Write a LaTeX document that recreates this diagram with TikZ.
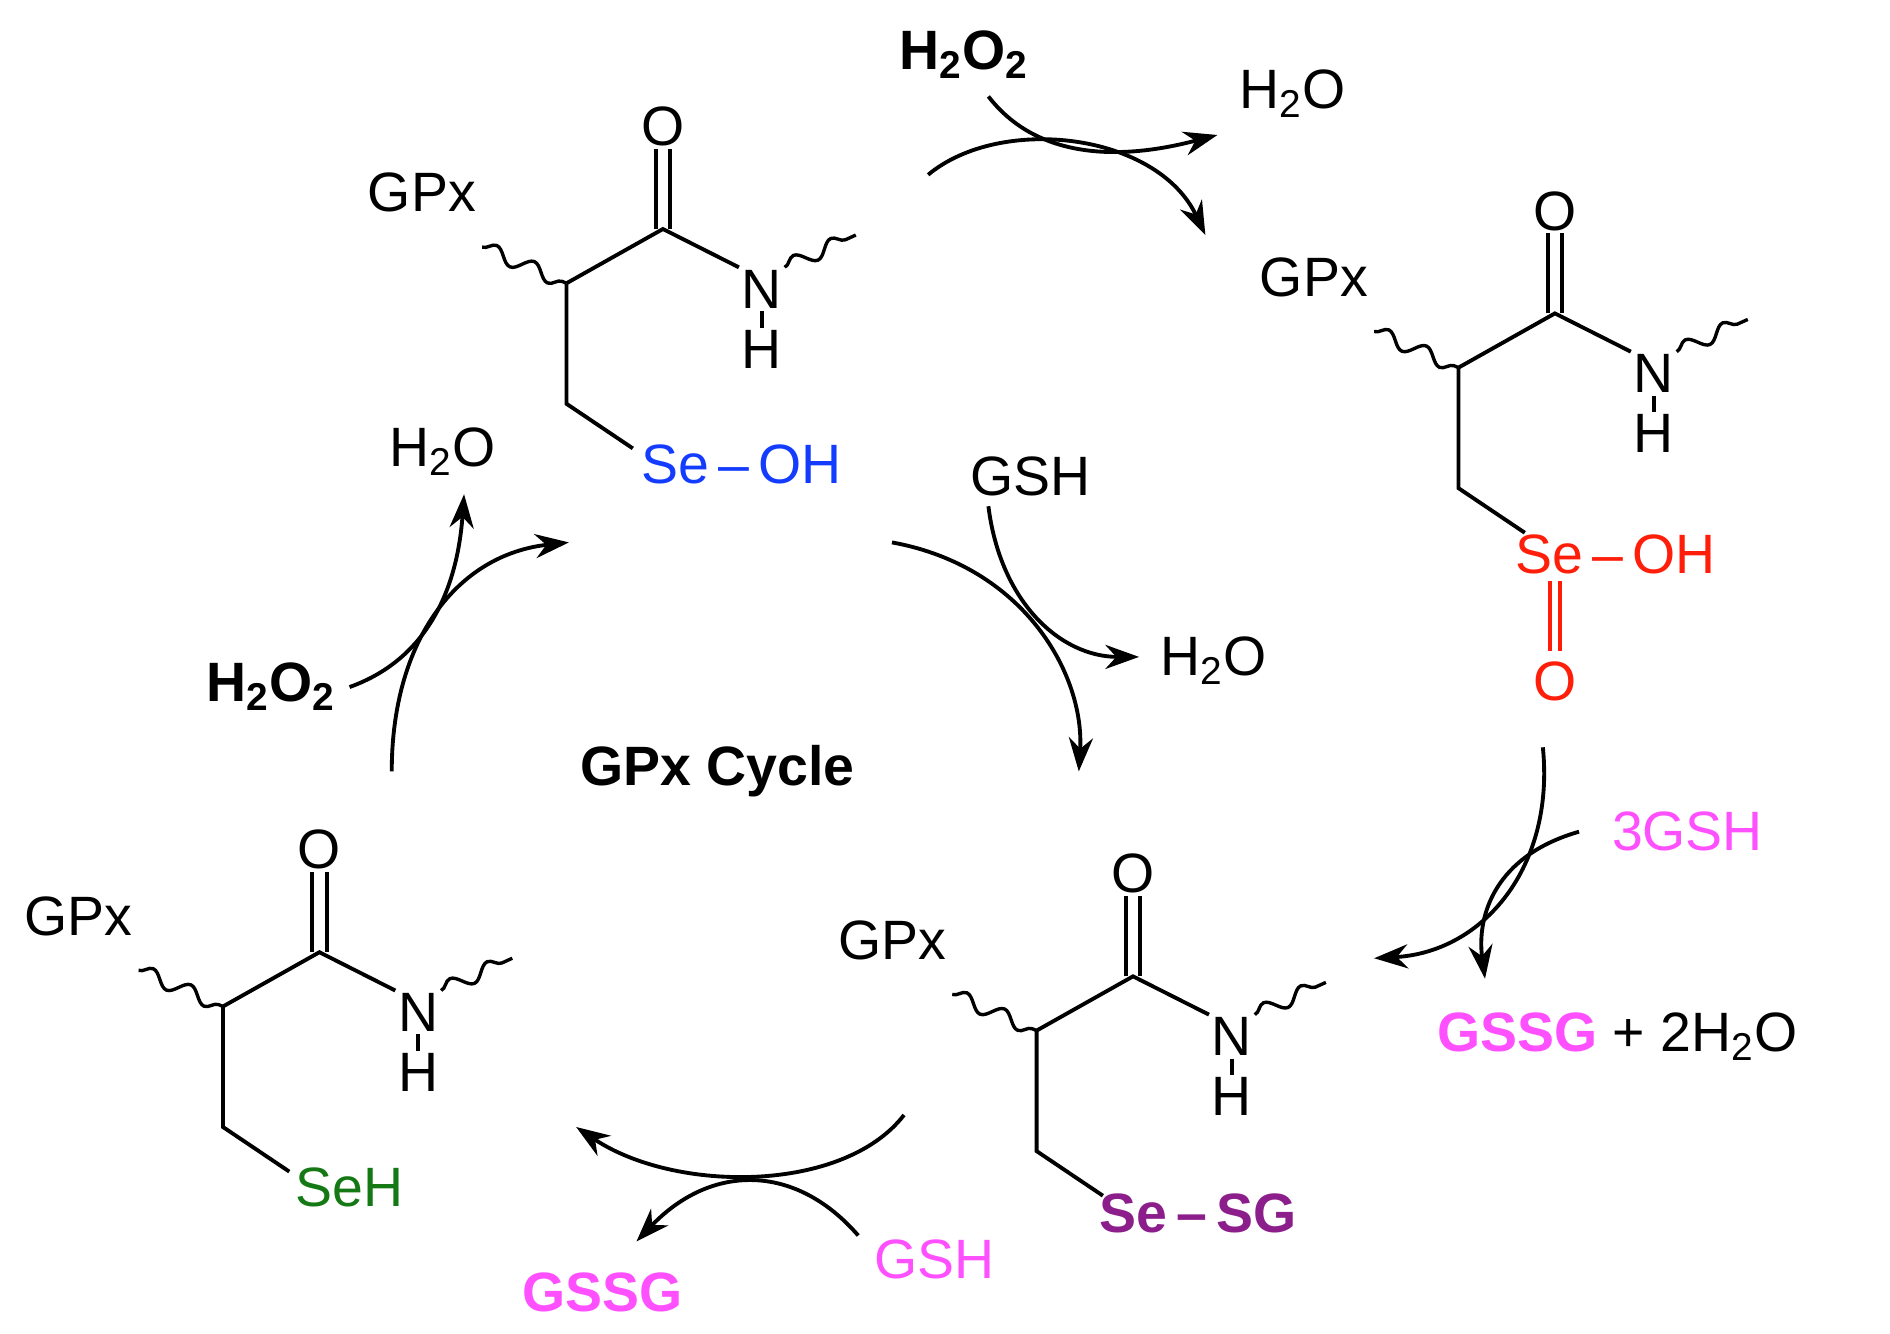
\documentclass[tikz,border=0pt]{standalone}
\usepackage{fontspec}
\setmainfont{Liberation Sans}
\usetikzlibrary{decorations.pathmorphing,arrows.meta}
\definecolor{mag}{RGB}{255,80,255}
\definecolor{seblue}{RGB}{20,60,255}
\definecolor{sered}{RGB}{255,30,10}
\definecolor{sepur}{RGB}{140,30,140}
\definecolor{segreen}{RGB}{20,120,20}
\tikzset{bond/.style={line width=1.6pt},
 wav/.style={line width=1.4pt,decorate,decoration={snake,segment length=17pt,amplitude=3pt}},
 rx/.style={line width=1.6pt,-{Stealth[length=14pt,width=10pt]}},
 lbl/.style={font=\fontsize{23}{27}\selectfont,inner sep=1pt}}
\newcommand{\mymol}[3]{%
\begin{scope}[shift={(#1,#2)}]
 \node[lbl] (g#3) at (350,160) {GPx};
 \coordinate (w#3) at (400,205); \coordinate (a#3) at (470,235);
 \coordinate (c#3) at (550,190); \coordinate (ch#3) at (470,335);
 \node[lbl] (o#3) at (550,105) {O};
 \node[lbl] (n#3) at (632,240) {N};
 \node[lbl] (h#3) at (632,290) {H};
 \coordinate (wn#3) at (710,195);
 \draw[wav] (w#3) -- (a#3);
 \draw[bond] (a#3) -- (c#3) -- (n#3.north west);
 \draw[bond] ([xshift=-3pt]c#3) -- ([xshift=-3pt]o#3.south);
 \draw[bond] ([xshift=3pt]c#3) -- ([xshift=3pt]o#3.south);
 \draw[bond] (n#3) -- (h#3);
 \draw[wav] (n#3.north east) -- (wn#3);
 \draw[bond] (a#3) -- (ch#3) -- (525,372);
\end{scope}}
\begin{document}
\begin{tikzpicture}[x=0.5pt,y=-0.5pt]
\useasboundingbox (0,0) rectangle (1568,1106);
\mymol{0}{0}{1}
\mymol{740}{70}{2}
\mymol{390}{620}{3}
\mymol{-285}{600}{4}
\node[lbl,anchor=west,text=seblue] (se1) at (530,385) {Se\,–\,OH};
\node[lbl,anchor=west,text=sered] (se2) at (1255,460) {Se\,–\,OH};
\node[lbl,text=sered] (o2) at (1290,565) {O};
\draw[bond,sered] (1286,482) -- (1286,540);
\draw[bond,sered] (1294,482) -- (1294,540);
\node[lbl,anchor=west,text=sepur,font=\fontsize{23}{27}\selectfont\bfseries] (se3) at (910,1007) {Se\,–\,SG};
\node[lbl,anchor=west,text=segreen] (se4) at (243,985) {SeH};
% texts
\node[lbl,font=\fontsize{23}{27}\selectfont\bfseries] (t1) at (800,45) {H\textsubscript{2}O\textsubscript{2}};
\node[lbl] (t2) at (1072,78) {H\textsubscript{2}O};
\node[lbl] (t3) at (855,395) {GSH};
\node[lbl] (t4) at (1007,548) {H\textsubscript{2}O};
\node[lbl,text=mag] (t5) at (1400,690) {3GSH};
\node[lbl,anchor=west] (t6) at (1190,860) {\textcolor{mag}{\bfseries GSSG} + 2H\textsubscript{2}O};
\node[lbl,text=mag] (t7) at (775,1045) {GSH};
\node[lbl,text=mag,font=\fontsize{23}{27}\selectfont\bfseries] (t8) at (500,1072) {GSSG};
\node[lbl] (t9) at (367,375) {H\textsubscript{2}O};
\node[lbl,font=\fontsize{23}{27}\selectfont\bfseries] (t10) at (225,570) {H\textsubscript{2}O\textsubscript{2}};
\node[lbl,font=\fontsize{23}{27}\selectfont\bfseries] (t11) at (595,640) {GPx Cycle};
% arrows
\draw[rx] (770,145) .. controls (830,95) and (960,110) .. (1000,195);
\draw[rx] (820,80) .. controls (870,145) and (960,125) .. (1010,112);
\draw[rx] (740,450) .. controls (850,470) and (900,560) .. (895,640);
\draw[rx] (820,420) .. controls (830,500) and (880,545) .. (945,545);
\draw[rx] (1280,620) .. controls (1290,720) and (1230,790) .. (1140,795);
\draw[rx] (1310,690) .. controls (1240,710) and (1225,760) .. (1232,812);
\draw[rx] (750,925) .. controls (700,990) and (560,990) .. (478,935);
\draw[rx] (712,1025) .. controls (660,965) and (590,965) .. (528,1030);
\draw[rx] (325,640) .. controls (325,530) and (380,460) .. (472,450);
\draw[rx] (290,570) .. controls (360,545) and (380,480) .. (385,410);
\end{tikzpicture}
\end{document}
